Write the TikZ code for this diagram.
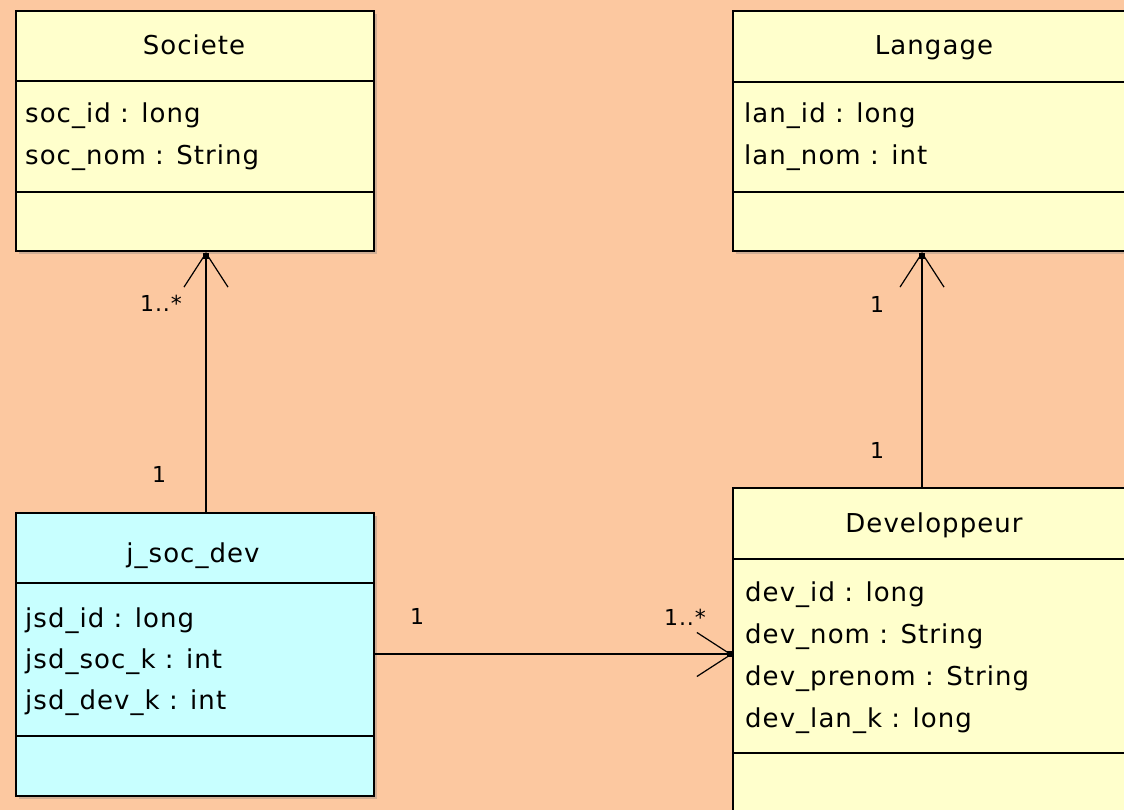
\documentclass[tikz,border=0pt]{standalone}
\usepackage{fontspec}
\setmainfont{DejaVu Sans}[LetterSpace=4.0]
\usetikzlibrary{arrows.meta,shadows}

\definecolor{bgpeach}{RGB}{252,200,160}
\definecolor{classyellow}{RGB}{255,255,204}
\definecolor{classcyan}{RGB}{200,255,255}

\newcommand{\classfont}{\fontsize{26}{30}\selectfont}
\newcommand{\multfont}{\fontsize{22}{26}\selectfont}

\begin{document}
\begin{tikzpicture}[x=1pt, y=1pt,
        classbox/.style={draw, line width=2pt, anchor=north west, inner sep=0pt,
            drop shadow={shadow xshift=3pt, shadow yshift=-3pt, opacity=0.35}},
        divider/.style={line width=2pt},
        title/.style={font=\classfont, anchor=base},
        attr/.style={font=\classfont, anchor=base west, inner sep=0pt},
        mult/.style={font=\multfont, anchor=base, inner sep=0pt},
        assoc/.style={line width=2pt, -{Straight Barb[length=34pt, width=44pt, line width=1.2pt]}}]

    \useasboundingbox (0,0) rectangle (1124,810);
    \clip (0,0) rectangle (1124,810);
    \fill[bgpeach] (0,0) rectangle (1124,810);

    \coordinate (socline) at (206,0);
    \coordinate (lanline) at (922,0);

    % Societe
    \node[classbox, fill=classyellow, minimum width=358, minimum height=240] (societe) at (15,800) {};
    \draw[divider] (15,729) -- (373,729);
    \draw[divider] (15,618) -- (373,618);
    \node[title] (societeT) at (194,755) {Societe};
    \node[attr] (socId) at (25,687) {soc\_id : long};
    \node[attr] (socNom) at (25,645) {soc\_nom : String};

    % Langage
    \node[classbox, fill=classyellow, minimum width=404, minimum height=240] (langage) at (732,800) {};
    \draw[divider] (732,728) -- (1136,728);
    \draw[divider] (732,618) -- (1136,618);
    \node[title] (langageT) at (934,755) {Langage};
    \node[attr] (lanId) at (744,687) {lan\_id : long};
    \node[attr] (lanNom) at (744,645) {lan\_nom : int};

    % j_soc_dev
    \node[classbox, fill=classcyan, minimum width=358, minimum height=283] (jsd) at (15,298) {};
    \draw[divider] (15,227) -- (373,227);
    \draw[divider] (15,74) -- (373,74);
    \node[title] (jsdT) at (193,247) {j\_soc\_dev};
    \node[attr] (jsdId) at (25,182) {jsd\_id : long};
    \node[attr] (jsdSocK) at (25,141) {jsd\_soc\_k : int};
    \node[attr] (jsdDevK) at (25,100) {jsd\_dev\_k : int};

    % Developpeur
    \node[classbox, fill=classyellow, minimum width=404, minimum height=343] (dev) at (732,323) {};
    \draw[divider] (732,251) -- (1136,251);
    \draw[divider] (732,57) -- (1136,57);
    \node[title] (devT) at (934,277) {Developpeur};
    \node[attr] (devId) at (745,208) {dev\_id : long};
    \node[attr] (devNom) at (745,166) {dev\_nom : String};
    \node[attr] (devPrenom) at (745,124) {dev\_prenom : String};
    \node[attr] (devLanK) at (745,82) {dev\_lan\_k : long};

    % Associations
    \draw[assoc] (jsd.north -| socline) -- (societe.south -| socline);
    \draw[assoc] (dev.north -| lanline) -- (langage.south -| lanline);
    \draw[assoc] (jsd.east) -- (dev.west |- jsd.east);

    % Mark the navigable ends.
    \fill (societe.south -| socline) +(-3,-7) rectangle +(3,-1);
    \fill (langage.south -| lanline) +(-3,-7) rectangle +(3,-1);
    \fill (dev.west |- jsd.east) +(-5,-3) rectangle +(1,3);

    % Label the multiplicities.
    \node[mult] (socMany) at (161,498) {1..*};
    \node[mult] (jsdOne) at (159,327) {1};
    \node[mult] (lanOne) at (877,497) {1};
    \node[mult] (devOne) at (877,351) {1};
    \node[mult] (jsdDevOne) at (417,185) {1};
    \node[mult] (devMany) at (685,184) {1..*};

\end{tikzpicture}
\end{document}
